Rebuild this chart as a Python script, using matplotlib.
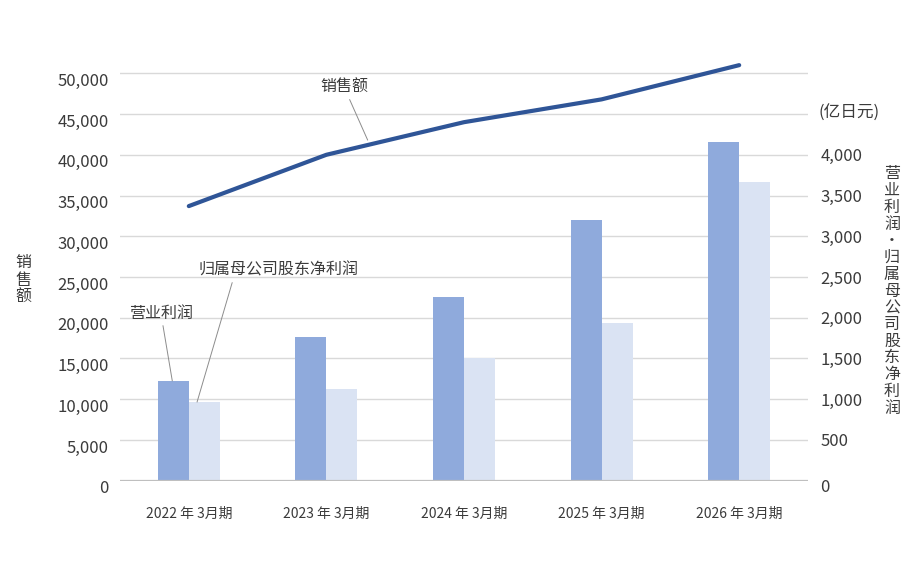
import matplotlib
matplotlib.use("Agg")
import matplotlib.pyplot as plt
import matplotlib.transforms as mtransforms
import numpy as np

plt.rcParams['font.family'] = ['Noto Sans CJK SC', 'DejaVu Sans']

# ---- data ----
categories = ["2022 年 3月期", "2023 年 3月期", "2024 年 3月期", "2025 年 3月期", "2026 年 3月期"]
sales = [33700, 40000, 44000, 46800, 51000]            # 销售额 (亿日元)
operating_profit = [1225, 1765, 2255, 3195, 4160]      # 营业利润
net_profit = [965, 1125, 1505, 1935, 3670]             # 归属母公司股东净利润
left_ticks = list(range(0, 50001, 5000))
right_ticks = list(range(0, 4001, 500))

TXT = '#3b3b3b'
C_LINE = '#2F5597'
C_OP = '#8FAADC'
C_NET = '#DAE3F3'
C_GRID = '#D9D9D9'

W, H = 916, 581
fig = plt.figure(figsize=(W / 100, H / 100), dpi=100)
ax_l, ax_r, ax_b, ax_t = 120, 808, 480.7, 57
ax = fig.add_axes([ax_l / W, 1 - ax_b / H, (ax_r - ax_l) / W, (ax_b - ax_t) / H])
ax2 = ax.twinx()

x = np.arange(len(categories))
bw = 0.225

# grid + sales line on left axis
ax.set_xlim(-0.5, len(categories) - 0.5)
ax.set_ylim(0, 52000)
ax.set_yticks(left_ticks)
ax.set_yticklabels([f"{v:,}" for v in left_ticks])
ax.yaxis.grid(True, color=C_GRID, lw=1.0)
ax.set_axisbelow(True)
ax.plot(x, sales, color=C_LINE, lw=3, solid_capstyle='round', zorder=3)

# bars on right axis
ax2.set_ylim(0, 5200)
ax2.set_yticks(right_ticks)
ax2.set_yticklabels([f"{v:,}" for v in right_ticks])
ax2.bar(x - bw / 2, operating_profit, width=bw, color=C_OP, zorder=2)
ax2.bar(x + bw / 2, net_profit, width=bw, color=C_NET, zorder=2)

for a in (ax, ax2):
    for s in ('top', 'left', 'right', 'bottom'):
        a.spines[s].set_visible(False)
    a.tick_params(axis='both', length=0, colors=TXT)

ax2.axhline(0, color='#BFBFBF', lw=1.6, zorder=4)

ax.set_xticks(x)
ax.set_xticklabels(categories, fontsize=10, color=TXT)
ax.tick_params(axis='x', pad=19)
ax.tick_params(axis='y', labelsize=12, pad=8)
ax2.tick_params(axis='y', labelsize=12, pad=9)

# left tick labels sit slightly below their gridlines; right "0" sits below the baseline
off = mtransforms.ScaledTranslation(0, -6 / 100, fig.dpi_scale_trans)
for lab in ax.get_yticklabels():
    lab.set_transform(lab.get_transform() + off)
r0 = ax2.get_yticklabels()[0]
r0.set_transform(r0.get_transform() + mtransforms.ScaledTranslation(0, -5 / 100, fig.dpi_scale_trans))

# axis labels
fig.text(818 / W, 1 - 113 / H, "(亿日元)", fontsize=12, color=TXT, ha='left', va='center')
fig.text(23 / W, 1 - 280 / H, "\n".join("销售额"), fontsize=11.5, color=TXT,
         ha='center', va='center', linespacing=1.0)
fig.text(892 / W, 1 - 291 / H, "\n".join("营业利润・归属母公司股东净利润"), fontsize=11.5,
         color=TXT, ha='center', va='center', linespacing=0.98)

# annotations with leader lines
lead = dict(arrowstyle='-', color='#8c8c8c', lw=0.7, shrinkA=1, shrinkB=0)
ax.annotate("销售额", xy=(1.3, sales[1] + 0.3 * (sales[2] - sales[1]) + 600),
            xytext=(344, H - 87), textcoords='figure pixels',
            fontsize=11.5, color=TXT, ha='center', va='center',
            arrowprops=dict(lead, relpos=(0.58, 0)))
ax2.annotate("营业利润", xy=(x[0] - 0.12, operating_profit[0]),
             xytext=(161, H - 313), textcoords='figure pixels',
             fontsize=11.5, color=TXT, ha='center', va='center',
             arrowprops=dict(lead, relpos=(0.52, 0)))
ax2.annotate("归属母公司股东净利润", xy=(x[0] + 0.06, net_profit[0]),
             xytext=(279, H - 270), textcoords='figure pixels',
             fontsize=11.5, color=TXT, ha='center', va='center',
             arrowprops=dict(lead, relpos=(0.215, 0)))

fig.savefig("out.png", dpi=100)
